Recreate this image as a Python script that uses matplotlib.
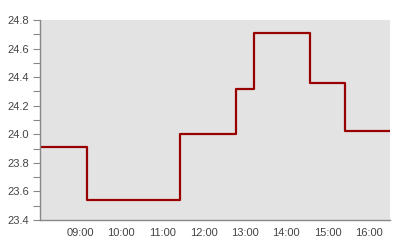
from matplotlib import pyplot as plt
import matplotlib.dates as mdates
from matplotlib.ticker import MultipleLocator
import pandas as pd

# Step readings (value holds until next time)
times = ['2024-01-01 08:02', '2024-01-01 09:10', '2024-01-01 11:26',
         '2024-01-01 12:47', '2024-01-01 13:13', '2024-01-01 14:35',
         '2024-01-01 15:26', '2024-01-01 16:31']
values = [23.91, 23.54, 24.00, 24.32, 24.71, 24.36, 24.02, 24.02]
y_range = [23.4, 24.8]


def main():
    plt.rcParams['font.family'] = ['Liberation Sans', 'DejaVu Sans']
    t = pd.to_datetime(times)

    fig = plt.figure(figsize=(4, 2.4), dpi=100)
    ax = fig.add_axes([40 / 400, 20 / 240, 350 / 400, 200 / 240])
    ax.set_facecolor('#e3e3e3')

    ax.plot(t, values, drawstyle='steps-post', color='#990000', linewidth=1.6)

    ax.set_xlim(t[0], t[-1])
    ax.set_ylim(*y_range)

    ax.yaxis.set_major_locator(MultipleLocator(0.2))
    ax.yaxis.set_minor_locator(MultipleLocator(0.1))
    ax.yaxis.set_major_formatter(plt.FuncFormatter(lambda v, _: f'{v:.1f}'))
    ax.xaxis.set_major_locator(mdates.HourLocator())
    ax.xaxis.set_major_formatter(mdates.DateFormatter('%H:%M'))

    ax.tick_params(axis='y', which='both', direction='out', length=5,
                   width=0.8, color='#888888', labelsize=8, labelcolor='#444444', pad=3)
    ax.tick_params(axis='x', length=0, labelsize=8, labelcolor='#444444', pad=6)

    for side in ['top', 'right']:
        ax.spines[side].set_visible(False)
    for side in ['left', 'bottom']:
        ax.spines[side].set_color('#888888')
        ax.spines[side].set_linewidth(1)

    fig.savefig('out.png', dpi=100)


if __name__ == '__main__':
    main()
